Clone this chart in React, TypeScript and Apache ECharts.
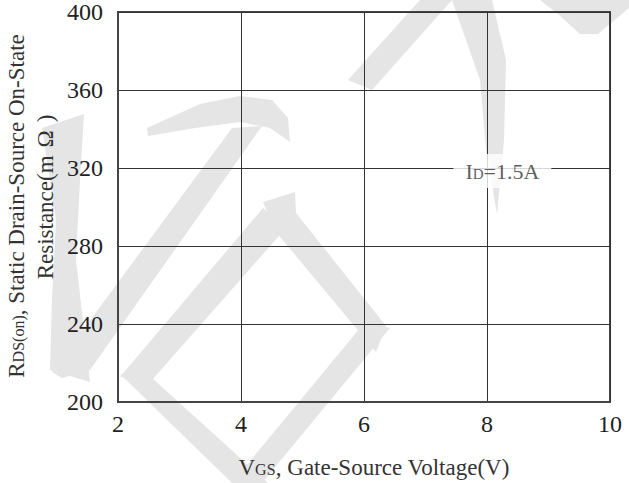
import React, { useEffect, useRef } from "react";
import * as echarts from "echarts";

const xTicks = [2, 4, 6, 8, 10];
const yTicks = [200, 240, 280, 320, 360, 400];
const annotationPoint = [8.25, 320];
const annotationMain = "I";
const annotationSub = "D";
const annotationRest = "=1.5A";
const xTitleMain = "V";
const xTitleSub = "GS";
const xTitleRest = ", Gate-Source Voltage(V)";
const yTitleMain = "R";
const yTitleSub = "DS(on)";
const yTitleRest = ", Static Drain-Source On-State";
const yTitleLine2a = "Resistance(m";
const yTitleLine2b = "Ω";
const yTitleLine2c = ")";

const FONT = "'Liberation Serif', 'Times New Roman', serif";
const WM = "#e5e5e5";
const TXT = "#333";

const watermark = [
  // left stroke
  [[42, 128], [84, 114], [80, 180], [76, 260], [84, 330], [90, 382], [50, 370], [52, 300], [56, 220]],
  // top flag
  [[147, 128], [200, 104], [240, 96], [272, 100], [288, 118], [290, 142], [270, 128], [240, 122], [195, 128], [148, 136]],
  // long diagonal
  [[232, 128], [262, 126], [90, 370], [62, 378], [52, 372]],
  // diamond left arm
  [[263, 208], [286, 228], [152, 380], [120, 377]],
  // bottom chevron
  [[120, 374], [152, 378], [268, 483], [232, 483]],
  // diamond right arm (upper)
  [[263, 202], [295, 192], [296, 213], [386, 326], [376, 352], [276, 232]],
  // diamond right arm (lower)
  [[365, 322], [390, 328], [262, 483], [232, 483]],
  // big arc left leg
  [[348, 80], [420, 0], [452, 0], [372, 90]],
  // big arc right leg
  [[452, 0], [492, 0], [506, 60], [504, 140], [497, 214], [486, 150], [480, 80]],
  // top right stroke
  [[540, 0], [629, 0], [629, 8], [598, 34], [580, 34], [558, 14]],
];

const richBig = (size: number) => ({
  fontFamily: FONT,
  fontSize: size,
  fill: TXT,
  color: TXT,
});
const richSmall = (size: number, drop: number) => ({
  fontFamily: FONT,
  fontSize: size,
  fill: TXT,
  color: TXT,
  padding: [drop, 0, 0, 0],
});

export default function App() {
  const ref = useRef<HTMLDivElement>(null);
  useEffect(() => {
    if (!ref.current) return;
    const chart = echarts.init(ref.current, undefined, { renderer: "svg" });
    const textStyle = { fontFamily: FONT, color: "#222" };
    chart.setOption({
      animation: false,
      backgroundColor: "#fff",
      grid: {
        left: 118,
        right: 19,
        top: 12,
        bottom: 81,
        show: true,
        borderColor: "#444",
        borderWidth: 2,
        backgroundColor: "transparent",
      },
      xAxis: {
        type: "value",
        min: xTicks[0],
        max: xTicks[xTicks.length - 1],
        interval: 2,
        axisLine: { show: true, lineStyle: { color: "#444", width: 2 } },
        axisTick: { show: false },
        splitLine: { show: true, lineStyle: { color: "#333", width: 1 } },
        axisLabel: { ...textStyle, fontSize: 24, margin: 10 },
      },
      yAxis: {
        type: "value",
        min: yTicks[0],
        max: yTicks[yTicks.length - 1],
        interval: 40,
        axisLine: { show: true, lineStyle: { color: "#444", width: 2 } },
        axisTick: { show: false },
        splitLine: { show: true, lineStyle: { color: "#333", width: 1 } },
        axisLabel: { ...textStyle, fontSize: 24, margin: 15 },
      },
      series: [
        {
          type: "scatter",
          data: [annotationPoint],
          symbolSize: 0,
          silent: true,
          label: {
            show: true,
            position: "inside",
            offset: [0, 3],
            backgroundColor: "#fff",
            padding: [6, 12, 6, 12],
            formatter: "{m|" + annotationMain + "}{s|" + annotationSub + "}{m|" + annotationRest + "}",
            rich: {
              m: richBig(22),
              s: richSmall(15, 5),
            },
          },
        },
      ],
      graphic: {
        elements: [
          ...watermark.map((pts) => ({
            type: "polygon",
            z: -10,
            silent: true,
            shape: { points: pts },
            style: { fill: WM },
          })),
          {
            type: "text",
            x: 374,
            y: 467,
            silent: true,
            style: {
              text: "{m|" + xTitleMain + "}{s|" + xTitleSub + "}{m|" + xTitleRest + "}",
              align: "center",
              verticalAlign: "middle",
              rich: { m: richBig(23), s: richSmall(16, 5) },
            },
          },
          {
            type: "text",
            x: 16,
            y: 206,
            rotation: Math.PI / 2,
            silent: true,
            style: {
              text: "{m|" + yTitleMain + "}{s|" + yTitleSub + "}{m|" + yTitleRest + "}",
              align: "center",
              verticalAlign: "middle",
              rich: { m: richBig(23), s: richSmall(16, 5) },
            },
          },
          {
            type: "text",
            x: 45,
            y: 197,
            rotation: Math.PI / 2,
            silent: true,
            style: {
              text: "{m|" + yTitleLine2a + "}{o|" + yTitleLine2b + "}{m|" + yTitleLine2c + "}",
              align: "center",
              verticalAlign: "middle",
              rich: {
                m: richBig(23),
                o: { ...richBig(23), padding: [0, 8, 0, 8] },
              },
            },
          },
        ],
      },
    });
    return () => chart.dispose();
  }, []);
  return (
    <div
      ref={ref}
      style={{ position: "absolute", left: 0, top: 0, width: 629, height: 483 }}
    />
  );
}
